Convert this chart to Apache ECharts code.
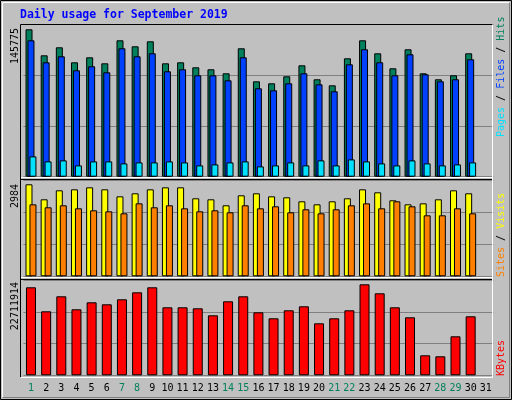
<!DOCTYPE html>
<html>
<head>
<meta charset="utf-8">
<script src="https://cdn.jsdelivr.net/npm/echarts@6/dist/echarts.min.js"></script>
<style>html,body{margin:0;padding:0;background:#c0c0c0}#chart{width:512px;height:400px}</style>
</head>
<body>
<div id="chart"></div>
<script>
const days = [];
for (let d = 1; d <= 31; d++) days.push(String(d));
const weekendDays = ['1', '7', '8', '14', '15', '21', '22', '28', '29'];

const hits = [145775,120060,127970,113140,118080,112150,134890,128960,133910,112150,113140,108190,106220,102260,126990,94350,92370,99290,110170,96330,90390,117100,134890,122040,107210,126000,102260,96330,100280,122040];
const files = [134890,113140,119070,105230,109180,103250,126990,119070,122040,104240,106220,100280,100280,95340,118080,87420,85450,92370,102260,91380,84460,111160,126000,113140,100280,121050,101270,94350,96330,116110];
const pages = [20080,15140,16130,11180,15140,15140,13160,14150,14150,15140,14150,11180,12170,14150,15140,10190,11180,14150,11180,16130,11180,17110,15140,13160,11180,16130,13160,11180,12170,14150];
const visits = [2984,2497,2789,2821,2886,2821,2594,2692,2821,2886,2886,2530,2497,2303,2627,2692,2594,2562,2432,2335,2432,2530,2821,2724,2465,2335,2367,2497,2789,2692];
const sites = [2335,2238,2303,2205,2140,2108,2043,2367,2238,2303,2205,2108,2140,2076,2303,2205,2270,2076,2173,2043,2173,2303,2367,2205,2432,2270,1978,1978,2205,2043];
const kbytes = [21963000,15973000,19717000,16472000,18219000,17720000,18968000,20715000,21963000,16972000,16972000,16722000,14975000,18469000,19717000,15724000,14226000,16223000,17221000,12978000,14226000,16223000,22711914,20466000,16972000,14476000,4992000,4742000,9734000,14725000];

const topMax = 150720, midMax = 3114, botMax = 23710000;
const mono = 'DejaVu Sans Mono';
const border = { borderColor: '#000', borderWidth: 1 };

const yAx = (idx, max) => ({
  gridIndex: idx, type: 'value', min: 0, max: max, interval: max / 3,
  axisLabel: { show: false }, axisLine: { show: false }, axisTick: { show: false },
  splitLine: { lineStyle: { color: '#808080', width: 1 } }
});
const xAx = (idx, showLabels) => ({
  gridIndex: idx, type: 'category', data: days,
  axisLine: { show: false }, axisTick: { show: false }, splitLine: { show: false },
  axisLabel: {
    show: showLabels, interval: 0, margin: 8, fontFamily: mono, fontSize: 10,
    color: v => weekendDays.includes(v) ? '#00805c' : '#000'
  }
});
const bar = (name, data, color, idx, extra) => Object.assign({
  name, type: 'bar', data, xAxisIndex: idx, yAxisIndex: idx,
  itemStyle: Object.assign({ color }, border), animation: false
}, extra);

const chart = echarts.init(document.getElementById('chart'));
chart.setOption({
  backgroundColor: '#c0c0c0',
  animation: false,
  grid: [
    { left: 23.4, width: 470, top: 24.3, height: 152.4 },
    { left: 23.4, width: 470, top: 180.3, height: 96 },
    { left: 23.4, width: 470, top: 280.3, height: 95 }
  ],
  xAxis: [xAx(0, false), xAx(1, false), xAx(2, true)],
  yAxis: [yAx(0, topMax), yAx(1, midMax), yAx(2, botMax)],
  series: [
    bar('Hits', hits, '#00805c', 0, { barWidth: 7, barGap: '-72%' }),
    bar('Files', files, '#0040ff', 0, { barWidth: 7, barGap: '-72%' }),
    bar('Pages', pages, '#00e0ff', 0, { barWidth: 7, barGap: '-72%' }),
    bar('Visits', visits, '#ffff00', 1, { barWidth: 7, barGap: '-43%' }),
    bar('Sites', sites, '#ff8000', 1, { barWidth: 7, barGap: '-43%' }),
    bar('KBytes', kbytes, '#ff0000', 2, { barWidth: 10 })
  ],
  graphic: [
    // outer frame
    { type: 'rect', shape: { x: 0.5, y: 0.5, width: 511, height: 399 }, style: { fill: null, stroke: '#000', lineWidth: 1 }, silent: true },
    { type: 'polyline', shape: { points: [[2.5, 397], [2.5, 2.5], [509, 2.5]] }, style: { fill: null, stroke: '#fff', lineWidth: 1 } },
    { type: 'polyline', shape: { points: [[3, 397.5], [509.5, 397.5], [509.5, 3]] }, style: { fill: null, stroke: '#808080', lineWidth: 1 } },
    // plot panel bevel
    { type: 'polyline', shape: { points: [[20.5, 377], [20.5, 24.5], [492, 24.5]] }, style: { fill: null, stroke: '#000', lineWidth: 1 }, z: 10 },
    { type: 'polyline', shape: { points: [[21, 377.5], [492.5, 377.5], [492.5, 25]] }, style: { fill: null, stroke: '#fff', lineWidth: 1 }, z: 10 },
    { type: 'line', shape: { x1: 21, y1: 177.5, x2: 492, y2: 177.5 }, style: { stroke: '#fff', lineWidth: 1 }, z: 10 },
    { type: 'line', shape: { x1: 21, y1: 179.5, x2: 492, y2: 179.5 }, style: { stroke: '#000', lineWidth: 1 }, z: 10 },
    { type: 'line', shape: { x1: 21, y1: 277.5, x2: 492, y2: 277.5 }, style: { stroke: '#fff', lineWidth: 1 }, z: 10 },
    { type: 'line', shape: { x1: 21, y1: 279.5, x2: 492, y2: 279.5 }, style: { stroke: '#000', lineWidth: 1 }, z: 10 },
    // title
    { type: 'text', x: 20, y: 15, style: { text: 'Daily usage for September 2019', fill: '#0000ff', font: 'bold 11.5px "DejaVu Sans Mono"', verticalAlign: 'middle' } },
    // y max labels
    { type: 'text', x: 15, y: 28, rotation: Math.PI / 2, style: { text: '145775', fill: '#000', font: '10px "DejaVu Sans Mono"', align: 'right', verticalAlign: 'middle' } },
    { type: 'text', x: 15, y: 184, rotation: Math.PI / 2, style: { text: '2984', fill: '#000', font: '10px "DejaVu Sans Mono"', align: 'right', verticalAlign: 'middle' } },
    { type: 'text', x: 15, y: 282, rotation: Math.PI / 2, style: { text: '22711914', fill: '#000', font: '10px "DejaVu Sans Mono"', align: 'right', verticalAlign: 'middle' } },
    // right legends
    { type: 'text', x: 501, y: 137, rotation: Math.PI / 2, style: {
      text: '{p|Pages}{k| / }{f|Files}{k| / }{h|Hits}', align: 'left', verticalAlign: 'middle',
      font: '10px "DejaVu Sans Mono"',
      rich: { p: { fill: '#00e0ff', font: '10px "DejaVu Sans Mono"' }, f: { fill: '#0040ff', font: '10px "DejaVu Sans Mono"' }, h: { fill: '#00805c', font: '10px "DejaVu Sans Mono"' }, k: { fill: '#000', font: '10px "DejaVu Sans Mono"' } }
    } },
    { type: 'text', x: 501, y: 277, rotation: Math.PI / 2, style: {
      text: '{s|Sites}{k| / }{v|Visits}', align: 'left', verticalAlign: 'middle',
      font: '10px "DejaVu Sans Mono"',
      rich: { s: { fill: '#ff8000', font: '10px "DejaVu Sans Mono"' }, v: { fill: '#ffff00', font: '10px "DejaVu Sans Mono"' }, k: { fill: '#000', font: '10px "DejaVu Sans Mono"' } }
    } },
    { type: 'text', x: 501, y: 376, rotation: Math.PI / 2, style: { text: 'KBytes', fill: '#ff0000', font: '10px "DejaVu Sans Mono"', align: 'left', verticalAlign: 'middle' } }
  ]
});
</script>
</body>
</html>
